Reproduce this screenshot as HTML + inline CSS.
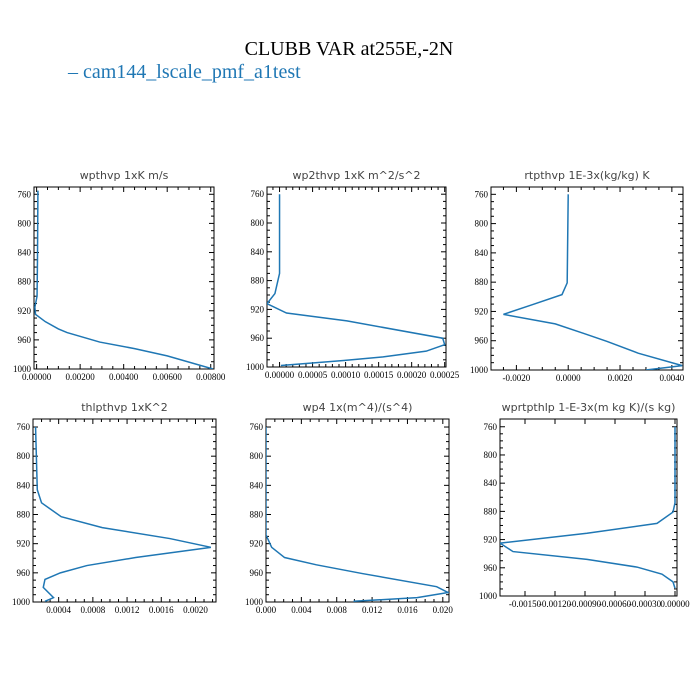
<!DOCTYPE html>
<html><head><meta charset="utf-8">
<style>
body{margin:0;background:#fff;}
svg{display:block;}
.tl{font-family:"DejaVu Sans",sans-serif;font-size:11px;fill:#444;}
.tk{font-family:"Liberation Serif",serif;font-size:9px;fill:#000;}
</style></head>
<body>
<svg id="fig" width="700" height="700" viewBox="0 0 700 700" xmlns="http://www.w3.org/2000/svg">
<text x="349" y="55" text-anchor="middle" font-family="Liberation Serif,serif" font-size="20" fill="#000">CLUBB VAR at255E,-2N</text>
<text x="68" y="78" font-family="Liberation Serif,serif" font-size="20" fill="#1f77b4">– cam144_lscale_pmf_a1test</text>
</svg>
<script>
// data arrays
const p1_pres=[755,850,900,915,925,935,945,950,963,972,982,1000];
const p1_vals=[0.00006,0.00004,0.00002,-0.00008,-0.00005,0.0004,0.0010,0.0014,0.0029,0.0045,0.0060,0.0081];
const p2_pres=[760,870,884,898,912,925,936,960,969,978,986,991,998];
const p2_vals=[0,0,-0.0000035,-0.000007,-0.000019,0.0000105,0.000102,0.000247,0.00025,0.000222,0.000157,0.000097,0.000002];
const p3_pres=[760,881,897,911,924,937,950,961,977,994,1000];
const p3_vals=[0,-0.00004,-0.00024,-0.0014,-0.0025,-0.0005,0.0006,0.0015,0.0027,0.0044,0.0030];
const p4_pres=[760,846,864,883,898,913,925,939,950,960,969,980,994,999];
const p4_vals=[0.00013,0.00015,0.0002,0.00043,0.00091,0.0017,0.00218,0.0013,0.00073,0.00042,0.00024,0.00022,0.00034,0.00024];
const p5_pres=[760,908,925,939,949,961,979,987,994,999];
const p5_vals=[0,0,0.00064,0.0021,0.0057,0.0109,0.0193,0.0206,0.0171,0.0099];
const p6_pres=[760,868,881,897,911,925,937,948,959,969,980,989];
const p6_vals=[0,0,-0.00002,-0.00018,-0.00088,-0.00175,-0.00162,-0.00088,-0.00038,-0.00013,-0.00002,0];
const p1_xticks=[0,0.002,0.004,0.006,0.008];
const p2_xticks=[0,0.00005,0.0001,0.00015,0.0002,0.00025];
const p3_xticks=[-0.002,0,0.002,0.004];
const p4_xticks=[0.0004,0.0008,0.0012,0.0016,0.002];
const p5_xticks=[0,0.004,0.008,0.012,0.016,0.02];
const p6_xticks=[-0.0015,-0.0012,-0.0009,-0.0006,-0.0003,0];
const yticks=[760,800,840,880,920,960,1000];

const NS="http://www.w3.org/2000/svg";
const svg=document.getElementById('fig');
function mk(tag,attrs,parent){const e=document.createElementNS(NS,tag);for(const k in attrs)e.setAttribute(k,attrs[k]);(parent||svg).appendChild(e);return e;}

const panels=[
 {name:'wpthvp',title:'wpthvp  1xK m/s',box:[34,214,187,369],xd:[-0.00012,0.00815],yd:[750,1000],pres:p1_pres,vals:p1_vals,xt:p1_xticks,minor:4,dec:5},
 {name:'wp2thvp',title:'wp2thvp  1xK m^2/s^2',box:[267,446,187,367],xd:[-0.000019,0.000252],yd:[750,1000],pres:p2_pres,vals:p2_vals,xt:p2_xticks,minor:5,dec:5},
 {name:'rtpthvp',title:'rtpthvp  1E-3x(kg/kg) K',box:[491,683,187,370],xd:[-0.00298,0.00443],yd:[750,1000],pres:p3_pres,vals:p3_vals,xt:p3_xticks,minor:4,dec:4},
 {name:'thlpthvp',title:'thlpthvp   1xK^2',box:[33,216,419,602],xd:[0.0001,0.00224],yd:[749,1000],pres:p4_pres,vals:p4_vals,xt:p4_xticks,minor:4,dec:4},
 {name:'wp4',title:'wp4  1x(m^4)/(s^4)',box:[266,449,419,602],xd:[0,0.0207],yd:[749,1000],pres:p5_pres,vals:p5_vals,xt:p5_xticks,minor:4,dec:3},
 {name:'wprtpthlp',title:'wprtpthlp  1-E-3x(m kg K)/(s kg)',box:[500,677,419,596],xd:[-0.00175,0.00002],yd:[749,1000],pres:p6_pres,vals:p6_vals,xt:p6_xticks,minor:1,dec:5}
];

panels.forEach(P=>{
  const [l,r,t,b]=P.box;
  const g=mk('g',{});
  
  
  const X=v=>l+(v-P.xd[0])/(P.xd[1]-P.xd[0])*(r-l);
  const Y=p=>t+(p-P.yd[0])/(P.yd[1]-P.yd[0])*(b-t);
  const tt=mk('text',{x:(l+r)/2,y:t-8,'text-anchor':'middle',class:'tl'},g);
  tt.textContent=P.title;
  
  
  // y ticks
  for(let p=760;p<=1000;p+=10){
    const maj=(p-760)%40===0, len=maj?5:3, y=Y(p);
    mk('line',{x1:l,x2:l+len,y1:y,y2:y,stroke:'#000','stroke-width':1},g);
    mk('line',{x1:r,x2:r-len,y1:y,y2:y,stroke:'#000','stroke-width':1},g);
  }
  yticks.forEach(p=>{
    const e=mk('text',{x:l-3,y:Y(p)+3,'text-anchor':'end',class:'tk'},g);
    e.textContent=String(p);
    
    
  });
  // x ticks
  const step=P.xt[1]-P.xt[0];
  const ms=step/P.minor;
  const k0=Math.ceil((P.xd[0]-P.xt[0])/ms-1e-6), k1=Math.floor((P.xd[1]-P.xt[0])/ms+1e-6);
  for(let k=k0;k<=k1;k++){
    const v=P.xt[0]+k*ms, x=X(v), maj=(((k%P.minor)+P.minor)%P.minor)===0, len=maj?5:3;
    mk('line',{x1:x,x2:x,y1:b,y2:b-len,stroke:'#000','stroke-width':1},g);
    mk('line',{x1:x,x2:x,y1:t,y2:t+len,stroke:'#000','stroke-width':1},g);
  }
  P.xt.forEach(v=>{
    const e=mk('text',{x:X(v),y:b+11,'text-anchor':'middle',class:'tk'},g);
    e.textContent=(Math.abs(v)<1e-12?0:v).toFixed(P.dec);
    
    
  });
  // frame
  const fr=mk('rect',{x:l,y:t,width:r-l,height:b-t,fill:'none',stroke:'#000','stroke-width':1},g);
  
  
  // clip
  const cp=mk('clipPath',{id:'c-'+P.name},g);
  mk('rect',{x:l,y:t,width:r-l,height:b-t},cp);
  const d=P.pres.map((p,i)=>(i?'L':'M')+X(P.vals[i]).toFixed(2)+' '+Y(p).toFixed(2)).join(' ');
  const ln=mk('path',{d:d,fill:'none',stroke:'#1f77b4','stroke-width':1.5,'clip-path':'url(#c-'+P.name+')'},g);
  
  
});
</script>
</body></html>
